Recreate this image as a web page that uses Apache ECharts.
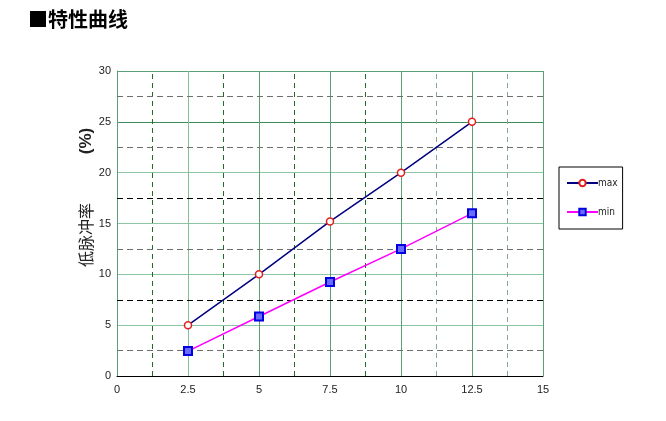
<!DOCTYPE html>
<html><head><meta charset="utf-8">
<script src="https://cdn.jsdelivr.net/npm/echarts@6/dist/echarts.min.js"></script>
<style>html,body{margin:0;padding:0;background:#fff}#c{width:666px;height:421px}</style>
</head><body><div id="c"></div>
<script>
const xValues = [2.5, 5, 7.5, 10, 12.5];
const maxValues = [5, 10, 15.2, 20, 25];
const minValues = [2.45, 5.85, 9.25, 12.5, 16];
const xTicks = [0, 2.5, 5, 7.5, 10, 12.5, 15];
const yTicks = [0, 5, 10, 15, 20, 25, 30];
const xDashDark = [1.25, 3.75, 6.25, 8.75];
const xDashLight = [11.25, 13.75];
const yDashGray = [2.5, 12.5, 22.5, 27.5];
const yDashBlack = [7.5, 17.5];

const chart = echarts.init(document.getElementById('c'));
const ml = [];
xDashDark.forEach(v => ml.push({xAxis: v, lineStyle: {color: '#1e6b2c', type: [5, 4], width: 1}}));
xDashLight.forEach(v => ml.push({xAxis: v, lineStyle: {color: '#86a88e', type: [5, 4], width: 1}}));
yDashGray.forEach(v => ml.push({yAxis: v, lineStyle: {color: '#6e6e6e', type: [6, 4], width: 1}}));
yDashBlack.forEach(v => ml.push({yAxis: v, lineStyle: {color: '#000', type: [6, 4], width: 1}}));

const lblFont = {fontFamily: 'Liberation Sans', fontSize: 11, color: '#222'};
chart.setOption({
  animation: false,
  title: {text: '■特性曲线', left: 23, top: 4,
    textStyle: {fontFamily: 'Noto Sans CJK SC', fontSize: 20, fontWeight: 'bold', color: '#000'}},
  grid: {left: 117, right: 123, top: 71, bottom: 45},
  xAxis: {type: 'value', min: 0, max: 15, interval: 2.5,
    axisLine: {onZero: false, lineStyle: {color: '#000', width: 1}},
    axisTick: {show: false},
    axisLabel: Object.assign({margin: 8, formatter: v => String(v)}, lblFont),
    splitLine: {show: true, lineStyle: {color: ['#000', '#7fbf9a', '#5a9f78', '#5a9f78', '#5a9f78', '#5a9f78', '#5a9f78'], width: 1}}
  },
  yAxis: {type: 'value', min: 0, max: 30, interval: 5,
    axisLine: {show: true, lineStyle: {color: '#5a9f78', width: 1}},
    axisTick: {show: false},
    axisLabel: Object.assign({margin: 6}, lblFont),
    splitLine: {show: true, lineStyle: {color: ['#000', '#8cc4a4', '#8cc4a4', '#8cc4a4', '#8cc4a4', '#3f8a5c', '#5a9f78'], width: 1}}
  },
  legend: {orient: 'vertical', left: 559, top: 167,
    padding: [11, 5, 12, 7], itemGap: 19, itemWidth: 31, itemHeight: 8,
    borderColor: '#000', borderWidth: 1,
    textStyle: {fontFamily: '"DejaVu Sans Condensed", "Liberation Sans", sans-serif', fontSize: 10, color: '#222', padding: [0, 0, 0, -5]},
    data: ['max', 'min']},
  graphic: [
    {type: 'text', x: 86, y: 235, rotation: Math.PI / 2,
      style: {text: '低脉冲率', fontFamily: 'Noto Sans CJK SC', fontSize: 16, fill: '#222',
        textAlign: 'center', textVerticalAlign: 'middle'}},
    {type: 'text', x: 86, y: 141, rotation: Math.PI / 2,
      style: {text: '(%)', fontFamily: 'Liberation Sans', fontSize: 17, fontWeight: 'bold', fill: '#222',
        textAlign: 'center', textVerticalAlign: 'middle'}}
  ],
  series: [
    {name: 'grid', type: 'line', data: [], silent: true,
      markLine: {symbol: 'none', silent: true, label: {show: false}, data: ml, animation: false}},
    {name: 'max', type: 'line', data: xValues.map((x, i) => [x, maxValues[i]]),
      symbol: 'circle', symbolSize: 7, z: 5,
      lineStyle: {color: '#000080', width: 1.5},
      itemStyle: {color: '#fff', borderColor: '#e02020', borderWidth: 1.5}},
    {name: 'min', type: 'line', data: xValues.map((x, i) => [x, minValues[i]]),
      symbol: 'rect', symbolSize: 8, z: 5,
      lineStyle: {color: '#ff00ff', width: 1.5},
      itemStyle: {color: '#6a6aff', borderColor: '#0000e0', borderWidth: 2}}
  ]
});
</script></body></html>
